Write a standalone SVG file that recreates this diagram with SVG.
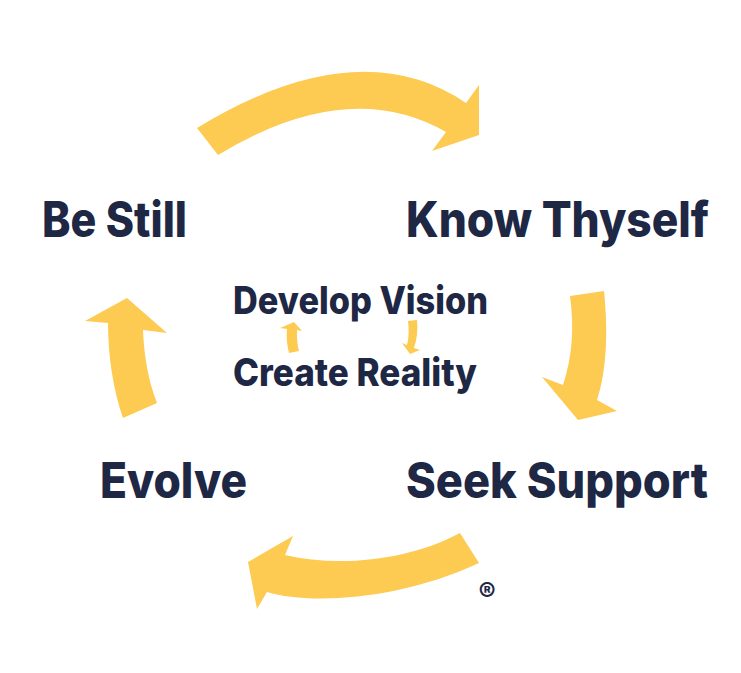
<svg xmlns="http://www.w3.org/2000/svg" width="741" height="673" viewBox="0 0 741 673">
<style>
.lbl{font-family:Inter,"Open Sans","Liberation Sans",sans-serif;font-weight:800;fill:#1e2744}
.big{font-size:49px}
.mid{font-size:38px}
.arr{fill:#fdca52}
</style>
<rect width="741" height="673" fill="#ffffff"/>
<g id="connectors">
<path class="arr" d="M197,128 Q358,30 466,103 L479,85 L479,135 L432,151 L446,132 Q348,76 218,155 Z"/>
<path class="arr" d="M570,296 L604,291 C608,330 607,370 597,400 L617,411 L578,420 L542,377 L563,385 C573,355 574,325 570,296 Z"/>
<path class="arr" d="M460,533 L479,563 C400,600 310,605 267,592 L257,609 L248,562 L293,536 L285,555 C340,568 410,560 460,533 Z"/>
<path class="arr" d="M127,298 L167,333 L143,330 C144,355 148,380 157,403 L123,418 C113,390 108,355 108,323 L85,321 Z"/>
<path class="arr" d="M294,322 L302,331 L297,330 C297,338 297,344 299,351 L289,353 C287,345 286,337 287,329 L280,328 Z"/>
<path class="arr" d="M408,321 L417,320 C418,330 417,339 414,348 L420,350 L410,354 L402,343 L407,345 C409,337 409,329 408,321 Z"/>
</g>
<g id="be-still"><text class="lbl big" x="42" y="237" textLength="145" lengthAdjust="spacingAndGlyphs">Be Still</text></g>
<g id="know-thyself"><text class="lbl big" x="406" y="237" textLength="303" lengthAdjust="spacingAndGlyphs">Know Thyself</text></g>
<g id="seek-support"><text class="lbl big" x="406" y="498" textLength="302" lengthAdjust="spacingAndGlyphs">Seek Support</text></g>
<g id="evolve"><text class="lbl big" x="100" y="498" textLength="147" lengthAdjust="spacingAndGlyphs">Evolve</text></g>
<g id="develop-vision"><text class="lbl mid" x="233" y="314" textLength="255" lengthAdjust="spacingAndGlyphs">Develop Vision</text></g>
<g id="create-reality"><text class="lbl mid" x="233" y="386" textLength="244" lengthAdjust="spacingAndGlyphs">Create Reality</text></g>
<g id="registered"><text class="lbl" x="487" y="601" font-size="26" text-anchor="middle">®</text></g>
</svg>
